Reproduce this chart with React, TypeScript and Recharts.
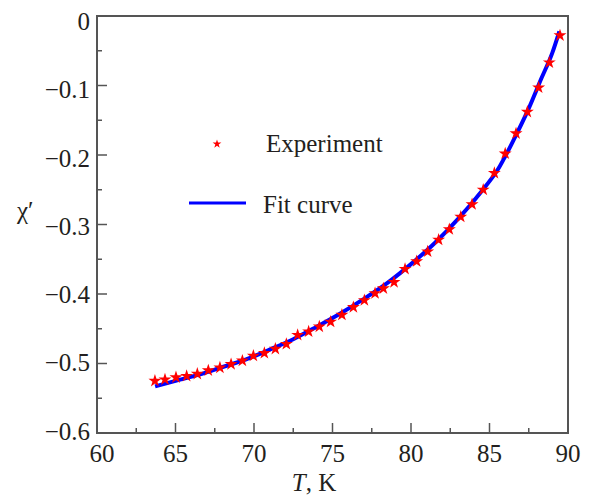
import {
  ComposedChart,
  Line,
  Scatter,
  XAxis,
  YAxis,
  ZAxis,
  ReferenceArea,
  Legend,
  Symbols,
} from 'recharts'

// measured points (T in K, chi')
const expT = [
  63.69, 64.33, 65.03, 65.71, 66.39, 67.09, 67.83, 68.54, 69.26, 69.96,
  70.66, 71.36, 72.06, 72.78, 73.48, 74.16, 74.88, 75.6, 76.33, 77.03,
  77.71, 78.24, 78.92, 79.62, 80.36, 81.06, 81.76, 82.44, 83.17, 83.89,
  84.6, 85.31, 86.0, 86.69, 87.41, 88.13, 88.81, 89.49,
]
const expChi = [
  -0.525, -0.523, -0.52, -0.518, -0.515, -0.51, -0.506, -0.501, -0.496, -0.489,
  -0.485, -0.479, -0.472, -0.459, -0.454, -0.447, -0.44, -0.43, -0.419, -0.409,
  -0.399, -0.392, -0.383, -0.364, -0.353, -0.339, -0.322, -0.307, -0.289, -0.271,
  -0.25, -0.226, -0.198, -0.169, -0.138, -0.103, -0.067, -0.028,
]

// fitted curve
const fitT = [
  63.7, 65, 66.5, 68, 69.5, 71, 72.5, 74, 75.5, 77, 78.5, 80, 81.5, 83,
  84.5, 85.5, 86.5, 87.5, 88.3, 89, 89.45,
]
const fitChi = [
  -0.533, -0.525, -0.516, -0.505, -0.494, -0.48, -0.465, -0.447, -0.428, -0.407,
  -0.384, -0.357, -0.327, -0.292, -0.252, -0.222, -0.18, -0.133, -0.09, -0.053, -0.022,
]

const xTicks = [60, 62.5, 65, 67.5, 70, 72.5, 75, 77.5, 80, 82.5, 85, 87.5, 90]
const yTicks = [-0.6, -0.55, -0.5, -0.45, -0.4, -0.35, -0.3, -0.25, -0.2, -0.15, -0.1, -0.05, 0]

const expData = expT.map((t, i) => ({ t, chi: expChi[i] }))
const fitData = fitT.map((t, i) => ({ t, chi: fitChi[i] }))

const FONT = '"Liberation Serif", "Times New Roman", serif'
const INK = '#231f20'
const FRAME = '#555'

function XTick({ x, y, payload }: any) {
  const v = payload.value
  const major = Math.abs(v % 5) < 1e-6
  // first label sits a little right of its tick, as in the original
  const shift = v === 60 ? 5 : 0
  return (
    <g>
      <line x1={x} x2={x} y1={y} y2={y - (major ? 10 : 5)} stroke={FRAME} strokeWidth={1.5} />
      {major && (
        <text x={x + shift} y={y + 29} textAnchor="middle" fontFamily={FONT} fontSize={25} fill={INK}>
          {v}
        </text>
      )}
    </g>
  )
}

function YTick({ x, y, payload }: any) {
  const v = payload.value
  const major = Math.abs(Math.round(v * 10) - v * 10) < 1e-6
  const label = Math.abs(v) < 1e-9 ? '0' : '\u2212' + Math.abs(v).toFixed(1)
  // labels in the original are spread a bit tighter than the ticks
  const dy = 10.4 + 12.2 * (v + 0.3)
  return (
    <g>
      <line x1={x} x2={x + (major ? 10 : 5)} y1={y} y2={y} stroke={FRAME} strokeWidth={1.5} />
      {major && (
        <text x={x - 7} y={y + dy} textAnchor="end" fontFamily={FONT} fontSize={25} fill={INK}>
          {label}
        </text>
      )}
    </g>
  )
}

const LegendBox = ({ payload }: any) => {
  const names = (payload || []).map((p: any) => p.value)
  return (
    <svg width={230} height={110} style={{ display: 'block' }}>
      <Symbols cx={34} cy={26} type="star" size={24} fill="#ff0000" />
      <text x={83} y={34} fontFamily={FONT} fontSize={25} fill={INK}>
        {names.find((n: string) => n === 'Experiment') || 'Experiment'}
      </text>
      <line x1={6} x2={63} y1={85} y2={85} stroke="#0000ff" strokeWidth={3} />
      <text x={80} y={95} fontFamily={FONT} fontSize={25} fill={INK}>
        {names.find((n: string) => n === 'Fit curve') || 'Fit curve'}
      </text>
    </svg>
  )
}

export default function App() {
  return (
    <ComposedChart
      width={590}
      height={495}
      margin={{ top: 8, right: 30, bottom: 10, left: 0 }}
    >
      <XAxis
        type="number"
        dataKey="t"
        domain={[60, 90]}
        ticks={xTicks}
        interval={0}
        height={60}
        axisLine={false}
        tickLine={false}
        tickSize={0}
        tickMargin={0}
        tick={<XTick />}
        allowDataOverflow
        label={({ viewBox }: any) => (
          <text
            x={viewBox.x + viewBox.width / 2 - 18.5}
            y={viewBox.y + 58}
            textAnchor="middle"
            fontFamily={FONT}
            fontSize={25}
            fill={INK}
          >
            <tspan fontStyle="italic">T</tspan>, K
          </text>
        )}
      />
      <YAxis
        type="number"
        dataKey="chi"
        domain={[-0.6, 0]}
        ticks={yTicks}
        interval={0}
        width={89}
        axisLine={false}
        tickLine={false}
        tickSize={0}
        tickMargin={0}
        tick={<YTick />}
        allowDataOverflow
        label={({ viewBox }: any) => (
          <text x={viewBox.x + 9} y={211} fontFamily={FONT} fontSize={25} fill={INK}>
            χ′
          </text>
        )}
      />
      <ZAxis range={[52, 52]} />
      <ReferenceArea x1={60} x2={90} y1={-0.6} y2={0} fill="none" stroke={FRAME} strokeWidth={2} />
      <Line
        data={fitData}
        dataKey="chi"
        name="Fit curve"
        type="monotone"
        stroke="#0000ff"
        strokeWidth={4}
        dot={false}
        isAnimationActive={false}
      />
      <Scatter
        data={expData}
        dataKey="chi"
        name="Experiment"
        shape="star"
        fill="#ff0000"
        isAnimationActive={false}
      />
      <Legend
        layout="horizontal"
        verticalAlign="middle"
        align="center"
        wrapperStyle={{ left: 175, top: 110, width: 230, height: 110 }}
        content={LegendBox}
      />
    </ComposedChart>
  )
}
